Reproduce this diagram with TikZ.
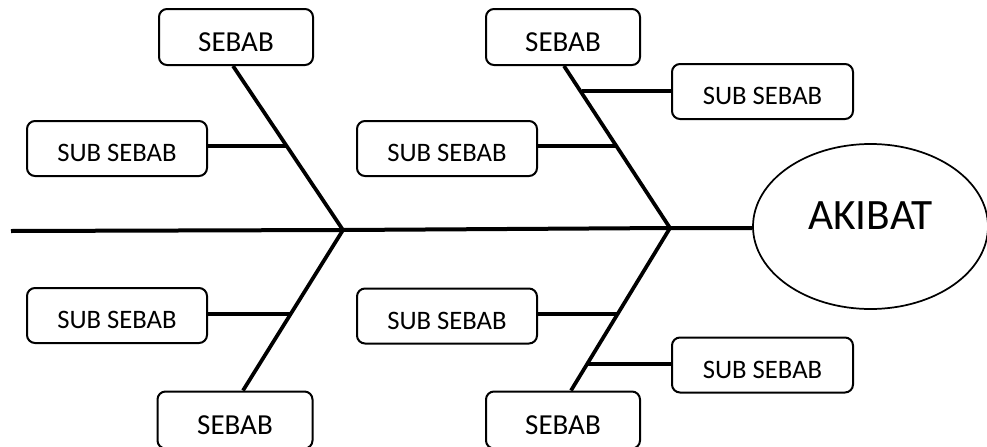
\documentclass[tikz,border=0pt]{standalone}
\usepackage{fontspec}
\setmainfont{Carlito}
\usetikzlibrary{shapes.geometric}
\tikzset{
  sebabbox/.style={draw, line width=1.5pt, rounded corners=6pt, fill=white,
    minimum width=115.5pt, minimum height=42pt, inner sep=0pt,
    font=\fontsize{21.75}{24}\selectfont, text height=21.3pt, text depth=0pt},
  subbox/.style={draw, line width=1.5pt, rounded corners=6pt, fill=white,
    minimum width=135pt, minimum height=41.25pt, inner sep=0pt,
    font=\fontsize{20}{22}\selectfont, text height=19.5pt, text depth=0pt},
  effect/.style={draw, ellipse, line width=1.3pt, inner sep=0pt,
    minimum width=176.25pt, minimum height=123.75pt,
    font=\fontsize{32.5}{35}\selectfont, text height=20.5pt, text depth=16.5pt},
  bone/.style={line width=3pt},
  rib/.style={line width=2.8pt},
  stub/.style={line width=2.8pt}
}
\begin{document}
\begin{tikzpicture}[x=0.75pt,y=-0.75pt]
\useasboundingbox (0,0) rectangle (987,446);
% nodes
\node[sebabbox] (s1) at (236,37) {SEBAB};
\node[sebabbox] (s2) at (563,37) {SEBAB};
\node[sebabbox, minimum width=116.25pt, minimum height=42.75pt] (s3) at (235,420) {SEBAB};
\node[sebabbox, minimum height=42.75pt] (s4) at (563,420) {SEBAB};
\node[subbox] (u1) at (117,148.5) {SUB SEBAB};
\node[subbox] (u2) at (447,148.5) {SUB SEBAB};
\node[subbox, minimum width=135.75pt] (u3) at (762.5,91.5) {SUB SEBAB};
\node[subbox] (u4) at (117,315.5) {SUB SEBAB};
\node[subbox] (u5) at (447,316) {SUB SEBAB};
\node[subbox, minimum width=135.75pt] (u6) at (762.5,365) {SUB SEBAB};
\node[effect] (ak) at (870.5,226.5) {AKIBAT};
% spine points
\coordinate (tail) at (11,231);
\coordinate (A) at (343,230);
\coordinate (B) at (670,228);
% junctions on ribs
\coordinate (j1) at (287,146);
\coordinate (j2) at (617,146);
\coordinate (j3) at (582,91);
\coordinate (j4) at (290,314);
\coordinate (j5) at (618,314);
\coordinate (j6) at (588,364);
% spine
\draw[bone] (tail) -- (A) -- (B) -- (B -| ak.west);
% ribs
\draw[rib] ([xshift=-2.25pt]s1.south) -- (A);
\draw[rib] ([xshift=0.75pt]s2.south) -- (B);
\draw[rib] ([xshift=6pt]s3.north) -- (A);
\draw[rib] ([xshift=6pt]s4.north) -- (B);
% stubs
\draw[stub] (u1.east |- j1) -- (j1);
\draw[stub] (u2.east |- j2) -- (j2);
\draw[stub] (j3) -- (u3.west |- j3);
\draw[stub] (u4.east |- j4) -- (j4);
\draw[stub] (u5.east |- j5) -- (j5);
\draw[stub] (j6) -- (u6.west |- j6);
\end{tikzpicture}
\end{document}
